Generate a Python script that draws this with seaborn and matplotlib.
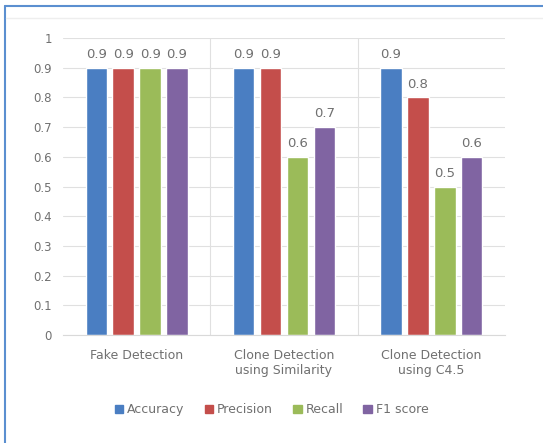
import pandas as pd
import numpy as np
import seaborn as sns
import matplotlib.pyplot as plt
from matplotlib.lines import Line2D

# Données
categories = ["Fake Detection", "Clone Detection\nusing Similarity", "Clone Detection\nusing C4.5"]
metriques = ["Accuracy", "Precision", "Recall", "F1 score"]
accuracy = [0.9, 0.9, 0.9]
precision = [0.9, 0.9, 0.8]
recall = [0.9, 0.6, 0.5]
f1_score = [0.9, 0.7, 0.6]
y_ticks = [0, 0.1, 0.2, 0.3, 0.4, 0.5, 0.6, 0.7, 0.8, 0.9, 1]
y_tick_labels = ["0", "0.1", "0.2", "0.3", "0.4", "0.5", "0.6", "0.7", "0.8", "0.9", "1"]

couleurs = ["#4A7EC2", "#C44E4B", "#9BBB59", "#8064A2"]
gris = "#707070"

rows = []
for metrique, valeurs in zip(metriques, [accuracy, precision, recall, f1_score]):
    for cat, v in zip(categories, valeurs):
        rows.append({"categorie": cat, "metrique": metrique, "valeur": v})
df = pd.DataFrame(rows)

sns.set_style("white")
plt.rcParams['font.family'] = ['DejaVu Sans']

fig = plt.figure(figsize=(5.43, 4.43), dpi=100)
ax = fig.add_axes([0.116, 0.244, 0.814, 0.67])

sns.barplot(
    data=df,
    x="categorie",
    y="valeur",
    hue="metrique",
    hue_order=metriques,
    order=categories,
    palette=couleurs,
    width=0.73,
    gap=0.2,
    saturation=1,
    ax=ax,
)

# Étiquettes de valeurs
for cont in ax.containers:
    ax.bar_label(cont, fmt="%g", padding=5, color=gris, fontsize=9.5)

ax.set_ylim(0, 1)
ax.set_xlim(-0.5, 2.5)
ax.set_yticks(y_ticks)
ax.set_yticklabels(y_tick_labels)
ax.set_xticks([0.5, 1.5], minor=True)
ax.grid(axis='y', which='major', color="#E0E0E0", linewidth=0.8)
ax.grid(axis='x', which='minor', color="#E0E0E0", linewidth=0.8)
ax.set_axisbelow(True)
ax.tick_params(axis='both', which='both', length=0, colors=gris, labelsize=8.5, pad=8)
ax.tick_params(axis='x', labelsize=9, pad=10)
ax.set_xlabel("")
ax.set_ylabel("")
for s in ["top", "right", "left"]:
    ax.spines[s].set_visible(False)
ax.spines["bottom"].set_color("#D9D9D9")

ax.get_legend().remove()
handles = [plt.Rectangle((0, 0), 1, 1, color=c) for c in couleurs]
fig.legend(handles, metriques, loc="center", bbox_to_anchor=(0.5, 0.075), ncol=4,
           frameon=False, fontsize=9, labelcolor=gris, handlelength=0.7, handleheight=0.7,
           handletextpad=0.3, columnspacing=1.6)

# Cadre bleu
fig.add_artist(Line2D([5 / 543, 5 / 543], [0, 1 - 6 / 443], color="#5B8FD0", linewidth=1.5))
fig.add_artist(Line2D([5 / 543, 1], [1 - 6 / 443, 1 - 6 / 443], color="#5B8FD0", linewidth=1.5))
fig.add_artist(Line2D([6 / 543, 1], [1 - 18 / 443, 1 - 18 / 443], color="#EEEEEE", linewidth=1))

fig.savefig("out.png", dpi=100)
